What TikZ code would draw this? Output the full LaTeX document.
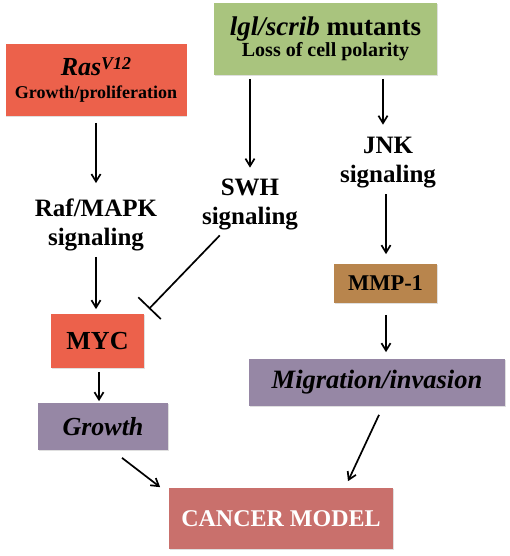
\documentclass[tikz,border=0pt]{standalone}
\usepackage{fontspec}
\setmainfont{Liberation Serif}
\usetikzlibrary{positioning, arrows.meta, shadows}
\definecolor{rasred}{HTML}{EC614B}
\definecolor{polgreen}{HTML}{A9C47E}
\definecolor{mmpbrown}{HTML}{B8854D}
\definecolor{outpurple}{HTML}{9687A5}
\definecolor{cancerrose}{HTML}{C9706C}
\newcommand{\pathwayarrow}{-{Straight Barb[length=2.6mm,width=3.2mm]}}
\newcommand{\inhibitbar}{-{Bar[width=11mm]}}
\tikzset{
  pathbox/.style={inner sep=0pt, align=center, drop shadow={shadow xshift=0.8pt, shadow yshift=-1.2pt, opacity=0.25}},
  sigtext/.style={inner sep=0pt, align=center, font=\fontsize{25}{29}\selectfont\bfseries}
}

\begin{document}
\begin{tikzpicture}[x=1pt, y=-1pt, line width=1.7pt]
            \useasboundingbox (0,0) rectangle (510,556);
            % top boxes
            \node[pathbox, fill=rasred, minimum width=181pt, minimum height=72pt,
              font=\fontsize{18}{23}\selectfont\bfseries] (ras) at (96,80)
              {{\fontsize{26}{23}\selectfont\itshape Ras\raisebox{6pt}{\fontsize{18}{18}\selectfont V12}}\\Growth/proliferation};
            \node[pathbox, fill=polgreen, minimum width=223pt, minimum height=72pt,
              font=\fontsize{20}{21}\selectfont\bfseries] (lgl) at (325.5,39)
              {{\fontsize{27}{21}\selectfont\itshape lgl/scrib\upshape{} mutants}\\Loss of cell polarity};
            % signaling steps
            \node[sigtext] (raf) at (96,225) {Raf/MAPK\\signaling};
            \node[sigtext] (swh) at (250,204) {SWH\\signaling};
            \node[sigtext] (jnk) at (388,163) {JNK\\signaling};
            % effectors and outcomes
            \node[pathbox, fill=rasred, minimum width=93pt, minimum height=54pt,
              font=\fontsize{26}{30}\selectfont\bfseries] (myc) at (97.5,341) {MYC};
            \node[pathbox, fill=mmpbrown, minimum width=103pt, minimum height=39pt,
              font=\fontsize{22.5}{26}\selectfont\bfseries] (mmp) at (385.5,283.5) {MMP-1};
            \node[pathbox, fill=outpurple, minimum width=130pt, minimum height=47pt,
              font=\fontsize{26}{30}\selectfont\bfseries\itshape] (growth) at (103,426.5) {Growth};
            \node[pathbox, fill=outpurple, minimum width=256pt, minimum height=47pt,
              font=\fontsize{26.5}{30}\selectfont\bfseries\itshape] (migr) at (377,382.5) {Migration/invasion};
            \node[pathbox, fill=cancerrose, minimum width=224pt, minimum height=61pt, text=white,
              font=\fontsize{24}{28}\selectfont\bfseries] (cancer) at (281,518.5) {CANCER MODEL};
            % connectors
            \draw[\pathwayarrow] ([yshift=-6pt]ras.south) -- ([yshift=15pt]raf.north);
            \draw[\pathwayarrow] ([yshift=-5pt]raf.south) -- ([yshift=4pt]raf.south |- myc.north);
            \draw[\pathwayarrow] ([yshift=-3pt]swh |- lgl.south) -- ([yshift=10pt]swh.north);
            \draw[\pathwayarrow] ([xshift=-5pt,yshift=-3pt]jnk |- lgl.south) -- ([xshift=-5pt,yshift=12pt]jnk.north);
            \draw[\pathwayarrow] ([xshift=-2pt,yshift=-5pt]jnk.south) -- ([xshift=-2pt,yshift=9pt]jnk.south |- mmp.north);
            \draw[\pathwayarrow] ([xshift=0.5pt,yshift=-11pt]mmp.south) -- ([xshift=0.5pt,yshift=6pt]mmp.south |- migr.north);
            \draw[\pathwayarrow] ([xshift=1.5pt,yshift=-3pt]myc.south) -- ([xshift=1.5pt,yshift=1pt]myc.south |- growth.north);
            \draw[\inhibitbar, shorten <=7pt, shorten >=6pt] (swh) -- (myc.north east);
            \draw[\pathwayarrow] ([xshift=19pt,yshift=-7pt]growth.south) -- ([xshift=-8pt]cancer.north west);
            \draw[\pathwayarrow] ([xshift=2pt,yshift=-8pt]migr.south) -- ([xshift=67pt,yshift=6pt]cancer.north);
        \end{tikzpicture}
\end{document}
